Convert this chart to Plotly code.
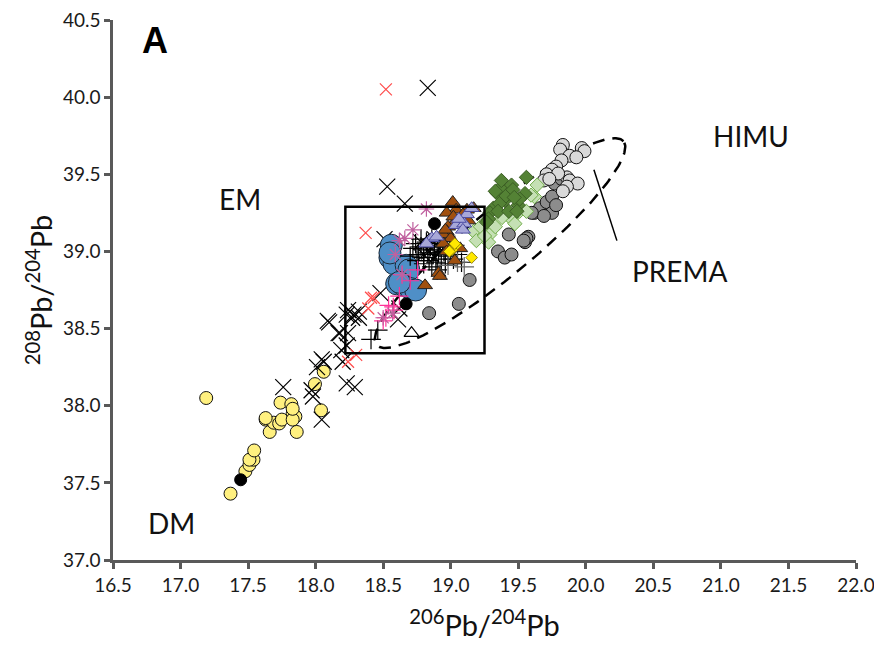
import numpy as np
import plotly.graph_objects as go

# ---------------- data (206Pb/204Pb, 208Pb/204Pb) ----------------
dm_yellow_x = [17.19, 17.37, 17.48, 17.51, 17.54, 17.51, 17.545, 17.63, 17.66, 17.69, 17.73, 17.75,
               17.74, 17.82, 17.83, 17.85, 17.83, 17.86, 17.83, 17.63, 18.04, 17.995, 18.06]
dm_yellow_y = [38.05, 37.43, 37.575, 37.616, 37.65, 37.65, 37.71, 37.91, 37.83, 37.89, 37.885, 37.91,
               38.02, 38.01, 37.95, 37.93, 37.91, 37.83, 37.98, 37.92, 37.97, 38.14, 38.22]

black_x_x = [17.76, 18.09, 18.18, 18.24, 18.27, 18.045, 18.01, 18.23, 18.29, 17.97, 17.98, 18.045,
             18.10, 18.23, 18.32, 18.17, 18.24, 18.23, 18.19, 18.06, 18.20, 18.28, 18.48, 18.61,
             18.62, 18.32, 18.66, 18.51, 18.53, 18.83, 18.78, 18.84, 18.92, 18.88, 18.80]
black_x_y = [38.12, 38.55, 38.47, 38.62, 38.57, 38.30, 38.25, 38.145, 38.12, 38.10, 38.06, 37.91,
             38.54, 38.59, 38.61, 38.47, 38.47, 38.39, 38.36, 38.285, 38.285, 38.59, 38.73, 38.56,
             38.63, 38.57, 39.31, 39.08, 39.42, 40.06, 39.06, 39.00, 39.02, 39.08, 38.98]

red_x_x = [18.52, 18.37, 18.41, 18.39, 18.24, 18.43, 18.30]
red_x_y = [40.05, 39.12, 38.70, 38.63, 38.285, 38.70, 38.33]

blue_x = [18.56, 18.55, 18.58, 18.67, 18.69, 18.60, 18.65, 18.70, 18.74, 18.62, 18.55]
blue_y = [39.04, 38.96, 38.92, 38.91, 38.88, 38.79, 38.78, 38.76, 38.75, 38.80, 38.99]

black_plus_x = [18.72, 18.74, 18.76, 18.78, 18.78, 18.80, 18.80, 18.82, 18.83, 18.84, 18.85, 18.86,
                18.87, 18.88, 18.89, 18.90, 18.91, 18.92, 18.93, 18.94, 18.95, 18.96, 18.97, 18.98,
                19.00, 19.02, 19.03, 19.05, 18.86, 18.80, 18.75, 18.90, 19.08, 18.70, 18.95, 18.46, 18.41]
black_plus_y = [39.02, 39.05, 38.98, 39.03, 39.08, 38.96, 39.01, 39.06, 38.99, 38.94, 39.03, 39.08,
                38.98, 39.01, 38.93, 39.05, 38.99, 39.03, 38.95, 39.07, 39.00, 38.92, 39.04, 38.97,
                39.01, 38.95, 39.04, 38.98, 38.90, 38.92, 38.94, 38.88, 38.93, 38.97, 39.10, 38.49, 38.43]

grey_plus_x = [18.98, 19.05, 19.10]
grey_plus_y = [38.91, 38.93, 38.90]

pink_plus_x = [18.50, 18.54, 18.575, 18.62, 18.64, 18.755, 18.70, 18.58, 18.52]
pink_plus_y = [38.55, 38.65, 38.64, 38.71, 38.85, 38.88, 38.81, 38.62, 38.57]

aster_x = [18.82, 18.72, 18.66, 18.62, 18.59, 18.64, 18.57, 18.50]
aster_y = [39.275, 39.14, 39.085, 39.07, 38.98, 38.85, 38.60, 38.57]

brown_x = [19.015, 19.04, 19.12, 19.17, 19.09, 19.13, 19.03, 18.98, 18.97, 18.945, 19.00, 18.945,
           19.01, 18.91, 18.81, 19.03, 18.97, 19.02, 18.96, 19.07, 18.97, 18.92]
brown_y = [39.32, 39.27, 39.27, 39.28, 39.24, 39.20, 39.19, 39.16, 39.13, 39.11, 39.085, 39.05,
           39.02, 38.86, 38.78, 38.94, 39.25, 39.225, 39.14, 39.02, 39.00, 38.84]

lav_x = [19.07, 19.12, 19.155, 19.04, 19.10, 18.86, 18.895, 19.06, 19.09, 18.82]
lav_y = [39.20, 39.24, 39.28, 39.17, 39.18, 39.085, 39.095, 39.21, 39.14, 39.05]

ydia_x = [19.155, 19.04, 19.01, 18.99, 19.03]
ydia_y = [38.96, 39.04, 39.01, 39.00, 39.05]

dgreen_x = [19.34, 19.375, 19.45, 19.40, 19.315, 19.36, 19.29, 19.28, 19.35, 19.43, 19.50, 19.55,
            19.51, 19.49, 19.56, 19.375, 19.33, 19.265, 19.41, 19.46, 19.47]
dgreen_y = [39.38, 39.42, 39.43, 39.33, 39.28, 39.31, 39.25, 39.21, 39.26, 39.26, 39.30, 39.375,
            39.34, 39.26, 39.48, 39.46, 39.39, 39.19, 39.36, 39.40, 39.35]

lgreen_x = [19.17, 19.19, 19.265, 19.29, 19.28, 19.33, 19.43, 19.45, 19.51, 19.475, 19.56, 19.62,
            19.64, 19.595, 19.38, 19.22, 19.25]
lgreen_y = [39.13, 39.07, 39.14, 39.11, 39.06, 39.16, 39.25, 39.21, 39.26, 39.18, 39.26, 39.355,
            39.43, 39.365, 39.22, 39.16, 39.10]

grey_x = [19.14, 19.06, 18.84, 19.35, 19.40, 19.45, 19.43, 19.55, 19.575, 19.62, 19.66, 19.71,
          19.75, 19.77, 19.82, 19.75, 19.78, 19.69, 19.60, 19.56, 19.54]
grey_y = [38.815, 38.66, 38.60, 39.00, 38.96, 38.98, 39.11, 39.06, 39.095, 39.25, 39.28, 39.32,
          39.25, 39.44, 39.47, 39.355, 39.30, 39.23, 39.25, 39.085, 39.07]

lgrey_x = [19.83, 19.81, 19.97, 19.99, 19.88, 19.93, 19.82, 19.78, 19.75, 19.71, 19.69, 19.86,
           19.88, 19.94, 19.86, 19.83, 19.795, 19.73]
lgrey_y = [39.69, 39.66, 39.67, 39.65, 39.62, 39.61, 39.59, 39.55, 39.53, 39.50, 39.46, 39.48,
           39.46, 39.44, 39.42, 39.39, 39.505, 39.47]

black_dot_x = [17.445, 18.67, 18.88]
black_dot_y = [37.52, 38.66, 39.18]

open_tri_x = [18.71]
open_tri_y = [38.47]

x_ticks = [16.5, 17.0, 17.5, 18.0, 18.5, 19.0, 19.5, 20.0, 20.5, 21.0, 21.5, 22.0]
y_ticks = [37.0, 37.5, 38.0, 38.5, 39.0, 39.5, 40.0, 40.5]

# field box and PREMA ellipse (annotation geometry)
box_x = [18.22, 19.25]
box_y = [38.34, 39.29]
ell_center = (19.365, 39.054)

FONT = "Lato, 'Open Sans', sans-serif"

fig = go.Figure()

# PREMA ellipse (drawn in screen-proportional space, then mapped to data units)
t = np.linspace(0, 2 * np.pi, 200)
a_px, b_px, th = 160, 33, np.radians(39.5)
px_x = a_px * np.cos(t) * np.cos(th) - b_px * np.sin(t) * np.sin(th)
px_y = a_px * np.cos(t) * np.sin(th) + b_px * np.sin(t) * np.cos(th)
xppu = 743 / 5.5   # pixels per x unit
yppu = 540 / 3.5   # pixels per y unit
fig.add_trace(go.Scatter(x=ell_center[0] + px_x / xppu, y=ell_center[1] + px_y / yppu,
                         mode="lines", line=dict(color="black", width=2.5, dash="12px,8px"),
                         hoverinfo="skip", showlegend=False))

def add(x, y, symbol, size, fill, lc, lw):
    fig.add_trace(go.Scatter(x=x, y=y, mode="markers", showlegend=False,
                             marker=dict(symbol=symbol, size=size, color=fill,
                                         line=dict(color=lc, width=lw))))

add(grey_x, grey_y, "circle", 13, "#8C8C8C", "#111111", 1)
add(lgrey_x, lgrey_y, "circle", 13, "#D9D9D9", "#111111", 1)
add(lgreen_x, lgreen_y, "diamond", 11, "#C5E0B4", "#70AD47", 1)
add(dgreen_x, dgreen_y, "diamond", 11, "#548235", "#3B5E24", 1)
add(dm_yellow_x, dm_yellow_y, "circle", 13, "#FFF07F", "#111111", 1)
add(black_x_x, black_x_y, "x-thin", 16, "black", "black", 1.2)
add(blue_x, blue_y, "circle", 22, "#4F8FC7", "#1A2A3A", 1)
add(red_x_x, red_x_y, "x-thin", 12, "#FF4B4B", "#FF4B4B", 1.2)
add(black_plus_x, black_plus_y, "cross-thin", 14, "black", "black", 1.2)
add(grey_plus_x, grey_plus_y, "cross-thin", 14, "#666666", "#666666", 1.2)
add(pink_plus_x, pink_plus_y, "cross-thin", 13, "#FF3399", "#FF3399", 1.2)
add(aster_x, aster_y, "asterisk", 13, "#C0609F", "#C0609F", 1.2)
add(brown_x, brown_y, "triangle-up", 13, "#A0500F", "#222222", 1)
add(lav_x, lav_y, "triangle-up", 13, "#A8A8D8", "#4A4AA0", 1)
add(ydia_x, ydia_y, "diamond", 9, "#FFE800", "#7A6A00", 0.8)
add(black_dot_x, black_dot_y, "circle", 12, "black", "black", 1)
add(open_tri_x, open_tri_y, "triangle-up", 13, "white", "black", 1.2)

# field box
fig.add_shape(type="rect", x0=box_x[0], x1=box_x[1], y0=box_y[0], y1=box_y[1],
              line=dict(color="black", width=2.5), layer="above")
# PREMA pointer
fig.add_shape(type="line", x0=20.06, y0=39.53, x1=20.23, y1=39.07,
              line=dict(color="black", width=1.5))

for txt, x, y in [("EM", 17.44, 39.34), ("HIMU", 21.22, 39.75), ("PREMA", 20.70, 38.87),
                  ("DM", 16.93, 37.24)]:
    fig.add_annotation(x=x, y=y, text=txt, showarrow=False,
                       font=dict(family=FONT, size=28, color="#111111"))
fig.add_annotation(x=16.81, y=40.37, text="<b>A</b>", showarrow=False,
                   font=dict(family="Liberation Sans, Arial, sans-serif", size=36, color="black"))

axis_common = dict(showline=True, linecolor="#595959", linewidth=2.5, ticks="outside",
                   ticklen=6, tickwidth=2.5, tickcolor="#595959", showgrid=False, zeroline=False,
                   tickfont=dict(family=FONT, size=19, color="#1a1a1a"), mirror=False,
                   ticklabeloverflow="allow", automargin=False)

fig.update_xaxes(range=[16.5, 22.0], tickmode="array", tickvals=x_ticks,
                 ticktext=[f"{v:.1f}" for v in x_ticks],
                 title=dict(text="<sup>206</sup>Pb/<sup>204</sup>Pb", standoff=22,
                            font=dict(family=FONT, size=29, color="#111111")),
                 **axis_common)
fig.update_yaxes(range=[37.0, 40.5], tickmode="array", tickvals=y_ticks,
                 ticktext=[f"{v:.1f}" for v in y_ticks],
                 title=dict(text="<sup>208</sup>Pb/<sup>204</sup>Pb", standoff=2,
                            font=dict(family=FONT, size=29, color="#111111")),
                 **axis_common)

fig.update_layout(width=874, height=652, margin=dict(l=113, r=18, t=20, b=92),
                  plot_bgcolor="white", paper_bgcolor="white", showlegend=False)

fig.write_html("out.html")
